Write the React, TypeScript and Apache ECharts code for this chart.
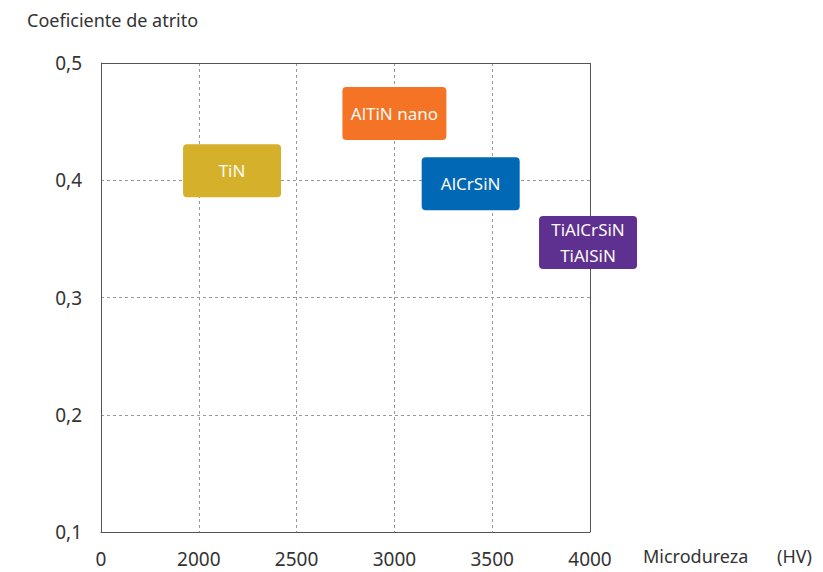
import React, { useEffect, useRef } from "react";
import * as echarts from "echarts";

const coatings = ["TiN", "AlTiN nano", "AlCrSiN", "TiAlCrSiN\nTiAlSiN"];
const hardness = [2170, 3000, 3390, 3990];
const friction = [0.408, 0.457, 0.397, 0.347];
const boxColors = ["#D5B02A", "#F47325", "#0068B5", "#5E3090"];
const boxWidths = [98, 104, 98, 98];

const xTickMin = 1500;
const xTickMax = 4000;
const yTickMin = 0.1;
const yTickMax = 0.5;

export default function App() {
  const ref = useRef<HTMLDivElement>(null);
  useEffect(() => {
    document.body.style.margin = "0";
    const chart = echarts.init(ref.current!, null, { renderer: "svg" });
    const font = "'Noto Sans', sans-serif";
    const data = coatings.map((c, i) => [hardness[i], friction[i], i]);
    chart.setOption({
      animation: false,
      grid: { left: 101, top: 63, right: 233, bottom: 40, containLabel: false },
      xAxis: {
        type: "value",
        min: xTickMin,
        max: xTickMax,
        interval: 500,
        axisLine: { show: true, lineStyle: { color: "#555", width: 1 } },
        axisTick: { show: false },
        axisLabel: {
          margin: 17,
          fontSize: 19,
          fontFamily: font,
          color: "#333",
          formatter: (v: number) => (v === xTickMin ? "0" : String(v)),
        },
        splitLine: {
          show: true,
          showMinLine: false,
          showMaxLine: false,
          lineStyle: { type: [3, 3], color: "#999", width: 1 },
        },
      },
      yAxis: {
        type: "value",
        min: yTickMin,
        max: yTickMax,
        interval: 0.1,
        axisLine: { show: true, lineStyle: { color: "#555", width: 1 } },
        axisTick: { show: false },
        axisLabel: {
          margin: 19,
          fontSize: 19,
          fontFamily: font,
          color: "#333",
          formatter: (v: number) => v.toFixed(1).replace(".", ","),
        },
        splitLine: {
          show: true,
          showMinLine: false,
          showMaxLine: false,
          lineStyle: { type: [3, 3], color: "#999", width: 1 },
        },
      },
      graphic: [
        {
          type: "line",
          shape: { x1: 101, y1: 63.5, x2: 590, y2: 63.5 },
          style: { stroke: "#555", lineWidth: 1 },
          z: 10,
        },
        {
          type: "line",
          shape: { x1: 590.5, y1: 63, x2: 590.5, y2: 532 },
          style: { stroke: "#555", lineWidth: 1 },
          z: 10,
        },
        {
          type: "text",
          left: 27,
          top: 11,
          style: { text: "Coeficiente de atrito", fontSize: 18, fontFamily: font, fill: "#333" },
        },
        {
          type: "text",
          left: 643,
          top: 547,
          style: { text: "Microdureza", fontSize: 18, fontFamily: font, fill: "#333" },
        },
        {
          type: "text",
          left: 777,
          top: 547,
          style: { text: "(HV)", fontSize: 18, fontFamily: font, fill: "#333" },
        },
      ],
      series: [
        {
          type: "custom",
          clip: false,
          z: 20,
          data,
          renderItem: (params: any, api: any) => {
            const idx = api.value(2);
            const p = api.coord([api.value(0), api.value(1)]);
            const w = boxWidths[idx];
            const h = 53;
            return {
              type: "group",
              children: [
                {
                  type: "rect",
                  shape: { x: p[0] - w / 2, y: p[1] - h / 2, width: w, height: h, r: 4 },
                  style: { fill: boxColors[idx] },
                },
                {
                  type: "text",
                  style: {
                    text: coatings[idx],
                    x: p[0],
                    y: p[1],
                    align: "center",
                    verticalAlign: "middle",
                    fontSize: 17,
                    lineHeight: 26,
                    fontFamily: font,
                    fill: "#fbfbf5",
                  },
                },
              ],
            };
          },
        },
      ],
    });
    return () => chart.dispose();
  }, []);
  return <div ref={ref} style={{ width: 823, height: 572 }} />;
}
